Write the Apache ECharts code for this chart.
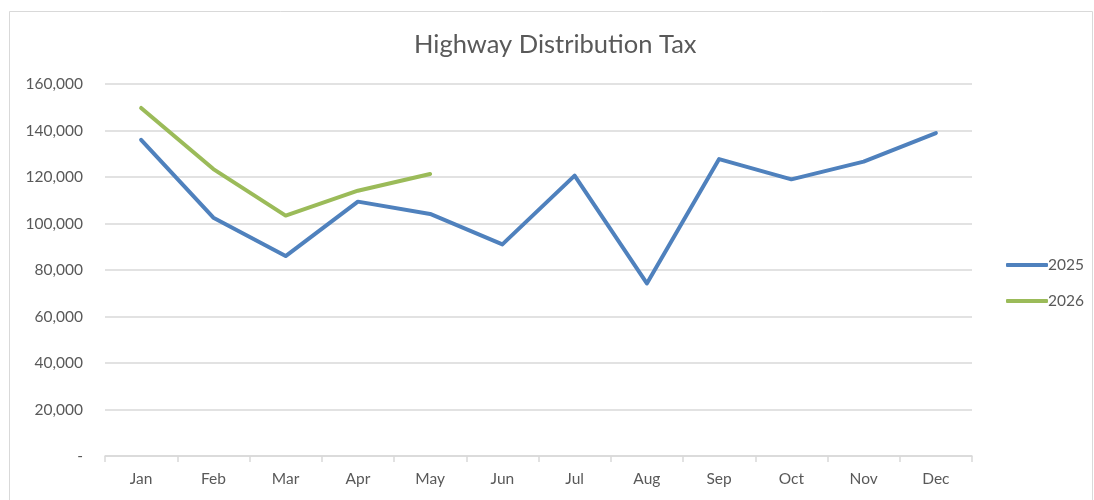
<!DOCTYPE html>
<html>
<head>
<meta charset="utf-8">
<script src="https://cdn.jsdelivr.net/npm/echarts@6/dist/echarts.min.js"></script>
<style>
html,body{margin:0;padding:0;background:#fff;}
#chart{width:1094px;height:500px;}
</style>
</head>
<body>
<div id="chart"></div>
<script>
const months = ['Jan','Feb','Mar','Apr','May','Jun','Jul','Aug','Sep','Oct','Nov','Dec'];
const series2025 = [136000, 102500, 86000, 109400, 104100, 91000, 120600, 74200, 127700, 119000, 126600, 138900];
const series2026 = [149700, 123400, 103400, 114100, 121300];
const yTicks = [0, 20000, 40000, 60000, 80000, 100000, 120000, 140000, 160000];
const yTickLabels = ['-', '20,000', '40,000', '60,000', '80,000', '100,000', '120,000', '140,000', '160,000'];

const chart = echarts.init(document.getElementById('chart'), null, {renderer: 'canvas'});
const font = 'Lato, "Open Sans", sans-serif';
chart.setOption({
  animation: false,
  backgroundColor: '#fff',
  graphic: [{
    type: 'rect', left: 7, top: 9, silent: true,
    shape: {width: 1083, height: 495},
    style: {fill: 'none', stroke: '#d9d9d9', lineWidth: 1}
  }],
  title: {
    text: 'Highway Distribution Tax',
    left: 409, top: 27,
    textStyle: {fontFamily: font, fontSize: 25.5, fontWeight: 'normal', color: '#595959'}
  },
  legend: {
    orient: 'vertical', left: 1001, top: 252, itemGap: 20,
    itemWidth: 42, itemHeight: 4, icon: 'roundRect',
    textStyle: {fontFamily: font, fontSize: 15.5, color: '#595959', padding: [0,0,0,-5]},
    data: ['2025', '2026']
  },
  grid: {left: 105, right: 122, top: 84, bottom: 44, containLabel: false},
  xAxis: {
    type: 'category', data: months, boundaryGap: true,
    axisLine: {lineStyle: {color: '#d9d9d9', width: 1.5}},
    axisTick: {show: true, length: 6, lineStyle: {color: '#d9d9d9', width: 1.5}},
    axisLabel: {fontFamily: font, fontSize: 15.5, color: '#595959', margin: 15}
  },
  yAxis: {
    type: 'value', min: 0, max: 160000, interval: 20000,
    axisLine: {show: false}, axisTick: {show: false},
    splitLine: {lineStyle: {color: '#d9d9d9', width: 1.5}},
    axisLabel: {
      fontFamily: font, fontSize: 15.5, color: '#595959', margin: 22,
      formatter: function (v) { const i = yTicks.indexOf(v); return i >= 0 ? yTickLabels[i] : ''; }
    }
  },
  series: [
    {name: '2025', type: 'line', data: series2025, symbol: 'none',
     lineStyle: {color: '#4f81bd', width: 4, cap: 'round', join: 'round'}, itemStyle: {color: '#4f81bd'}},
    {name: '2026', type: 'line', data: series2026, symbol: 'none',
     lineStyle: {color: '#9bbb59', width: 4, cap: 'round', join: 'round'}, itemStyle: {color: '#9bbb59'}}
  ]
});
</script>
</body>
</html>
